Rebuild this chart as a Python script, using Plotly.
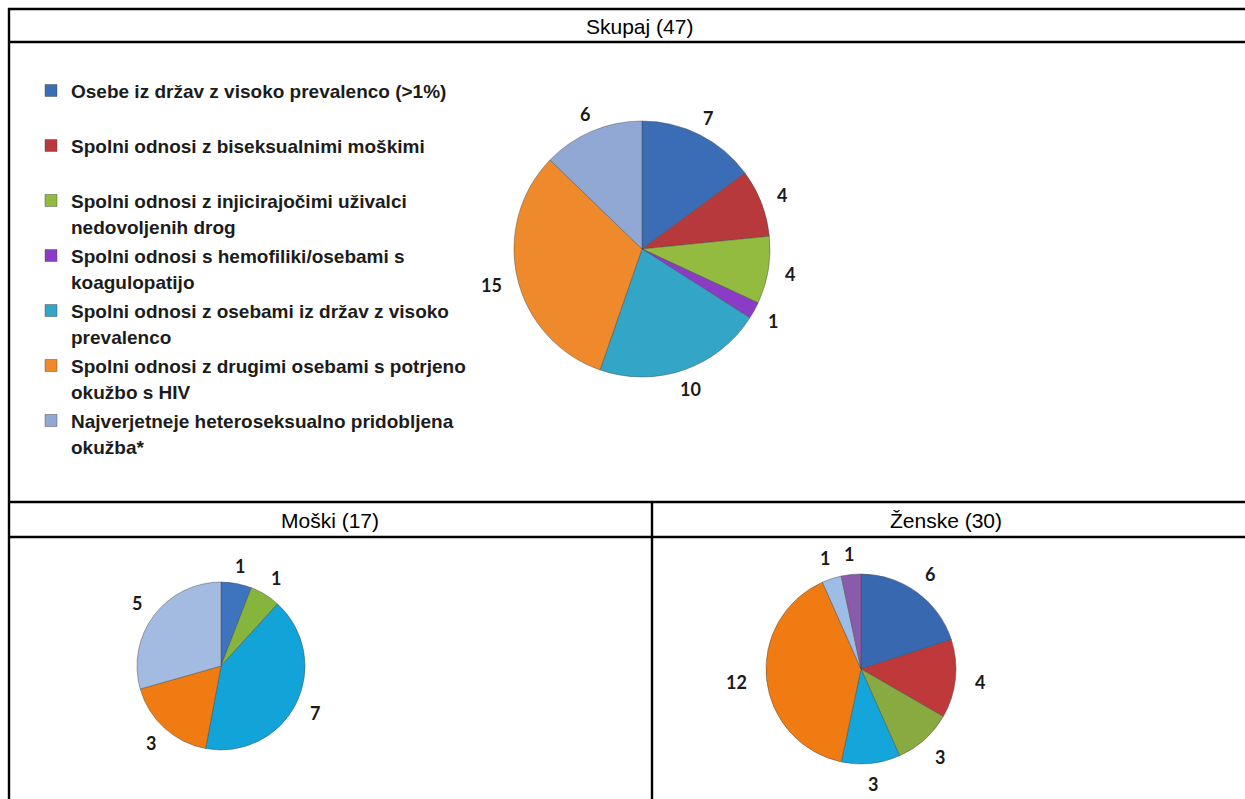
import math
import plotly.graph_objects as go

W, H = 1245, 799

# Transmission categories (legend order)
categories = [
    "Osebe iz držav z visoko prevalenco (>1%)",
    "Spolni odnosi z biseksualnimi moškimi",
    "Spolni odnosi z injicirajočimi uživalci<br>nedovoljenih drog",
    "Spolni odnosi s hemofiliki/osebami s<br>koagulopatijo",
    "Spolni odnosi z osebami iz držav z visoko<br>prevalenco",
    "Spolni odnosi z drugimi osebami s potrjeno<br>okužbo s HIV",
    "Najverjetneje heteroseksualno pridobljena<br>okužba*",
]

# Totals (Skupaj)
total_values = [7, 4, 4, 1, 10, 15, 6]
total_colors = ["#3A6DB5", "#B8393B", "#92BB40", "#8A3CC6", "#33A5C7", "#EE8A2C", "#92A8D4"]

# Men (Moški)
men_idx = [0, 2, 4, 5, 6]
men_values = [1, 1, 7, 3, 5]
men_colors = ["#3E73BE", "#86B53D", "#12A3D8", "#F07B12", "#A3BBE0"]

# Women (Ženske)
women_idx = [0, 1, 2, 4, 5, 6, 3]
women_values = [6, 4, 3, 3, 12, 1, 1]
women_colors = ["#3869B0", "#C0393A", "#88AA40", "#14A6DB", "#F07B12", "#9DBCE6", "#8A5BAA"]

headers = ["Skupaj (47)", "Moški (17)", "Ženske (30)"]


def px(x):
    return x / W


def py(y):
    return 1 - y / H


def legend_label(text):
    # two text lines per entry keep the entries evenly spaced
    lines = text.split("<br>")
    if len(lines) == 1:
        lines.append(" ")
    return "<br>".join('<span style="font-size:19px">%s</span>' % s for s in lines)


labels_all = [legend_label(c) for c in categories]
edge = dict(color="rgba(70,70,70,0.55)", width=0.8)

# pie boxes in pixels: (left, top, size)
pies = [
    dict(labels=labels_all, values=total_values, colors=total_colors,
         box=(514, 121, 256), legend=True, font=18, gap=17),
    dict(labels=[labels_all[i] for i in men_idx], values=men_values, colors=men_colors,
         box=(137, 582, 168), legend=False, font=18, gap=17),
    dict(labels=[labels_all[i] for i in women_idx], values=women_values, colors=women_colors,
         box=(766, 574, 190), legend=False, font=18, gap=20),
]

fig = go.Figure()
annotations = []

for p in pies:
    left, top, size = p["box"]
    fig.add_trace(go.Pie(
        labels=p["labels"],
        values=p["values"],
        marker=dict(colors=p["colors"], line=edge),
        sort=False,
        direction="clockwise",
        rotation=0,
        textinfo="none",
        domain=dict(x=[px(left), px(left + size)], y=[py(top + size), py(top)]),
        showlegend=p["legend"],
        hoverinfo="label+value",
    ))
    # value labels just outside each slice, at the slice's mid angle
    cx, cy, r = left + size / 2, top + size / 2, size / 2
    total = sum(p["values"])
    acc = 0
    for v in p["values"]:
        mid = (acc + v / 2) / total * 2 * math.pi
        acc += v
        half_w = 0.28 * p["font"] * len(str(v))
        d = r + p["gap"] + half_w * abs(math.sin(mid))
        annotations.append(dict(
            text=str(v), x=px(cx + d * math.sin(mid)), y=py(cy - d * math.cos(mid)),
            xref="paper", yref="paper", showarrow=False,
            xanchor="center", yanchor="middle",
            font=dict(family="Lato, Arial", size=p["font"], color="#1a1a1a", weight="bold"),
        ))

# Table grid
line = dict(color="black", width=2.4)
shapes = [
    dict(type="line", xref="paper", yref="paper", x0=px(8), x1=px(W), y0=py(9), y1=py(9), line=line),
    dict(type="line", xref="paper", yref="paper", x0=px(8), x1=px(W), y0=py(42), y1=py(42), line=line),
    dict(type="line", xref="paper", yref="paper", x0=px(8), x1=px(W), y0=py(502), y1=py(502), line=line),
    dict(type="line", xref="paper", yref="paper", x0=px(8), x1=px(W), y0=py(537), y1=py(537), line=line),
    dict(type="line", xref="paper", yref="paper", x0=px(9), x1=px(9), y0=py(8), y1=py(H), line=line),
    dict(type="line", xref="paper", yref="paper", x0=px(652), x1=px(652), y0=py(502), y1=py(H), line=line),
]

head_font = dict(family="Arial, Liberation Sans", size=21, color="black")
for text, x, y in [(headers[0], 640, 26), (headers[1], 330, 520), (headers[2], 946, 520)]:
    annotations.append(dict(text=text, x=px(x), y=py(y), xref="paper", yref="paper",
                            showarrow=False, font=head_font, xanchor="center", yanchor="middle"))

fig.update_layout(
    width=W,
    height=H,
    margin=dict(l=0, r=0, t=0, b=0),
    paper_bgcolor="white",
    plot_bgcolor="white",
    shapes=shapes,
    annotations=annotations,
    legend=dict(
        x=px(31), y=py(71), xanchor="left", yanchor="top",
        font=dict(family="Arial, Liberation Sans", size=20, color="#1c1c1c", weight="bold"),
        valign="top",
        traceorder="normal",
        bgcolor="rgba(0,0,0,0)",
    ),
)

fig.write_html("out.html")
